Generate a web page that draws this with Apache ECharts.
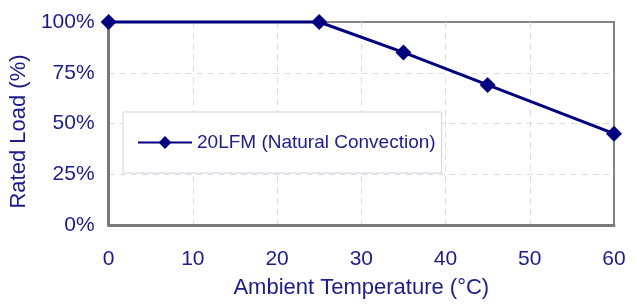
<!DOCTYPE html>
<html>
<head>
<meta charset="utf-8">
<script src="https://cdn.jsdelivr.net/npm/echarts@6/dist/echarts.min.js"></script>
<style>
  html, body { margin: 0; padding: 0; background: #fff; }
  #chart { width: 637px; height: 304px; }
</style>
</head>
<body>
<div id="chart"></div>
<script>
// derating curve values
const temperature = [0, 25, 35, 45, 60];
const ratedLoad = [100, 100, 85, 69, 45];
const seriesName = '20LFM (Natural Convection)';

const navy = '#00007f';
const textColor = '#1c1c8a';
const font = 'Liberation Sans';

const chart = echarts.init(document.getElementById('chart'));
chart.setOption({
  animation: false,
  grid: {
    left: 108, right: 23, top: 22, bottom: 75,
    show: true, borderColor: '#858585', borderWidth: 2
  },
  legend: {
    left: 123, top: 112,
    padding: [21, 6, 21, 14],
    backgroundColor: '#fff',
    borderColor: '#cfd0e6',
    borderWidth: 1,
    borderRadius: 0,
    itemWidth: 54, itemHeight: 16,
    textStyle: { color: textColor, fontFamily: font, fontSize: 19 },
    data: [seriesName]
  },
  xAxis: {
    type: 'value', min: 0, max: 60, interval: 10,
    name: 'Ambient Temperature (°C)',
    nameLocation: 'middle', nameGap: 52,
    nameTextStyle: { color: textColor, fontFamily: font, fontSize: 22 },
    axisLine: { lineStyle: { color: '#7a7a7a', width: 3 } },
    axisTick: { show: false },
    axisLabel: { color: textColor, fontFamily: font, fontSize: 21, margin: 24 },
    splitLine: {
      showMinLine: false, showMaxLine: false,
      lineStyle: { color: '#dcdcdc', type: [6, 5] }
    }
  },
  yAxis: {
    type: 'value', min: 0, max: 100, interval: 25,
    name: 'Rated Load (%)',
    nameLocation: 'middle', nameGap: 73,
    nameTextStyle: { color: textColor, fontFamily: font, fontSize: 22, padding: [0, 16, 0, 0] },
    axisLine: { show: true, lineStyle: { color: '#7a7a7a', width: 3 } },
    axisTick: { show: false },
    axisLabel: { color: textColor, fontFamily: font, fontSize: 21, margin: 14, formatter: '{value}%' },
    splitLine: {
      showMinLine: false, showMaxLine: false,
      lineStyle: { color: '#dcdcdc', type: [6, 5] }
    }
  },
  series: [{
    name: seriesName,
    type: 'line',
    data: temperature.map((t, i) => [t, ratedLoad[i]]),
    symbol: 'diamond',
    symbolSize: 16,
    clip: false,
    lineStyle: { color: navy, width: 3 },
    itemStyle: { color: navy }
  }]
});
</script>
</body>
</html>
